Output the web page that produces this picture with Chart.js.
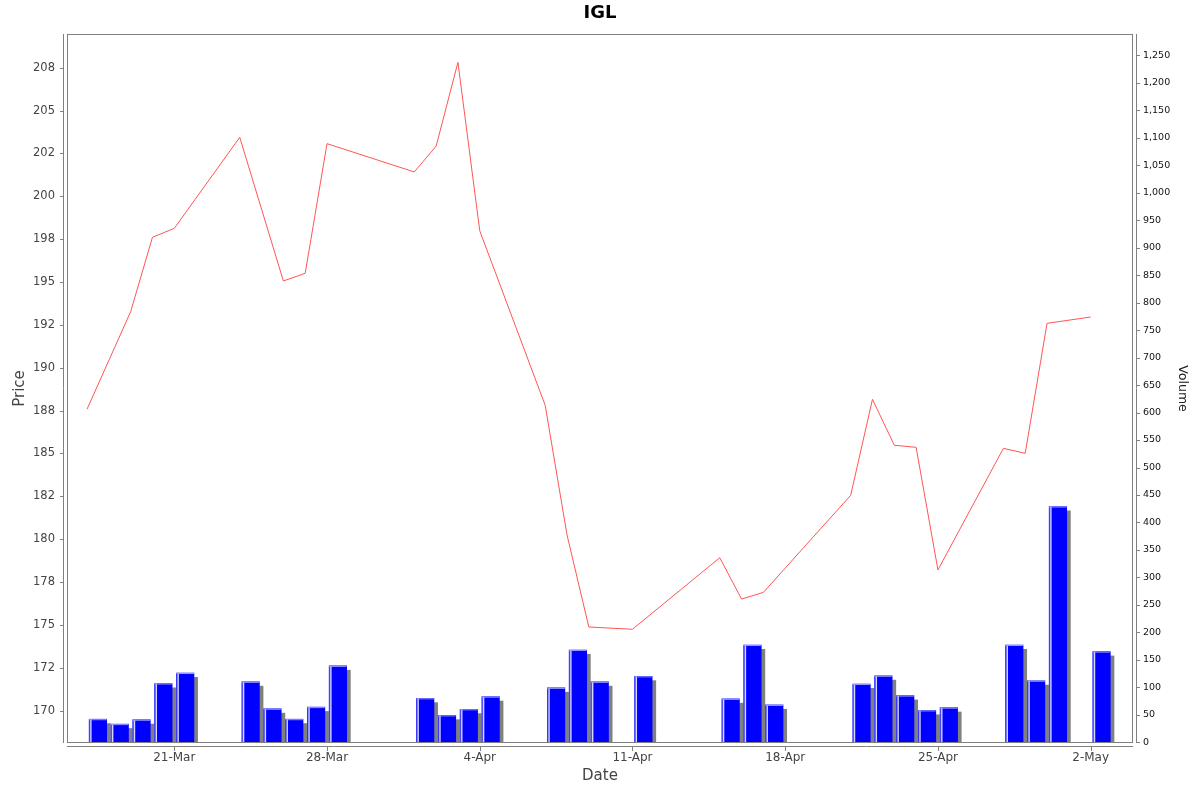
<!DOCTYPE html>
<html><head><meta charset="utf-8">
<script src="https://cdn.jsdelivr.net/npm/chart.js@4.4.1/dist/chart.umd.min.js"></script>
<style>html,body{margin:0;padding:0;background:#fff;}#wrap{width:1200px;height:792px;position:relative;}</style>
</head><body><div id="wrap"><canvas id="c"></canvas></div>
<script>
// ---- data ----
const dates = ['17-Mar','18-Mar','19-Mar','20-Mar','21-Mar','24-Mar','25-Mar','26-Mar','27-Mar','28-Mar',
  '1-Apr','2-Apr','3-Apr','4-Apr','7-Apr','8-Apr','9-Apr','11-Apr','15-Apr','16-Apr','17-Apr',
  '21-Apr','22-Apr','23-Apr','24-Apr','25-Apr','28-Apr','29-Apr','30-Apr','2-May'];
const prices = [187.58, null, 193.27, 197.61, 198.13, 203.44, null, 195.06, 195.51, 203.07,
  201.42, 202.92, 207.81, 197.99, 187.81, 180.25, 174.88, 174.75, 178.92, 176.51, 176.90,
  182.56, 188.16, 185.48, 185.36, 178.21, 185.30, 185.01, 192.59, 192.96];
const volumes = [42, 33, 41, 107, 126, 110, 61, 42, 64, 139,
  80, 49, 60, 83, 99, 168, 110, 120, 79, 177, 68,
  106, 121, 85, 58, 63, 177, 112, 429, 165];
const xTickDates = ['21-Mar','28-Mar','4-Apr','11-Apr','18-Apr','25-Apr','2-May'];
const priceTicks = [170,172.5,175,177.5,180,182.5,185,187.5,190,192.5,195,197.5,200,202.5,205,207.5];
const priceTickLabels = ['170','172','175','178','180','182','185','188','190','192','195','198','200','202','205','208'];
const volumeTicks = [0,50,100,150,200,250,300,350,400,450,500,550,600,650,700,750,800,850,900,950,1000,1050,1100,1150,1200,1250];

const monthStart = {Mar:0, Apr:31, May:61};
function dayNum(s){ const p = s.split('-'); return monthStart[p[1]] + Number(p[0]); }

const FONT = 'DejaVu Sans';
const GRAY = '#808080';

const decor = {
  id: 'decor',
  beforeDatasetDraw(chart, args) {
    if (args.meta.type !== 'bar') return;
    const ctx = chart.ctx, a = chart.chartArea;
    ctx.save();
    ctx.beginPath(); ctx.rect(a.left, a.top, a.right - a.left, a.bottom - a.top); ctx.clip();
    ctx.fillStyle = GRAY;
    args.meta.data.forEach(el => {
      const p = el.getProps(['x','y','base','width'], true);
      ctx.fillRect(p.x - p.width/2 + 4, p.y + 4, p.width, p.base - p.y);
    });
    ctx.restore();
  },
  afterDatasetDraw(chart, args) {
    if (args.meta.type !== 'bar') return;
    const ctx = chart.ctx;
    ctx.save();
    args.meta.data.forEach(el => {
      const p = el.getProps(['x','y','base','width'], true);
      const l = p.x - p.width/2;
      ctx.fillStyle = '#4d4dff'; ctx.fillRect(l, p.y, 1, p.base - p.y);
      ctx.fillStyle = '#d6d6ff'; ctx.fillRect(l + 1, p.y, 1.4, p.base - p.y);
      ctx.fillStyle = '#9a9aff'; ctx.fillRect(l, p.y, p.width, 1);
    });
    ctx.restore();
  },
  afterDraw(chart) {
    const ctx = chart.ctx, a = chart.chartArea;
    const L = Math.round(a.left), R = Math.round(a.right), T = Math.round(a.top), B = Math.round(a.bottom);
    ctx.save();
    ctx.strokeStyle = GRAY; ctx.lineWidth = 1;
    ctx.strokeRect(L + 0.5, T + 0.5, R - L - 1, B - T - 1);
    ctx.beginPath();
    ctx.moveTo(L - 3.5, T); ctx.lineTo(L - 3.5, B);
    ctx.moveTo(R + 3.5, T); ctx.lineTo(R + 3.5, B);
    ctx.moveTo(L, B + 3.5); ctx.lineTo(R, B + 3.5);
    const sp = chart.scales.yPrice, sv = chart.scales.yVol, sx = chart.scales.x;
    sp.ticks.forEach(t => { const y = Math.round(sp.getPixelForValue(t.value)) + 0.5; ctx.moveTo(L - 7, y); ctx.lineTo(L - 3, y); });
    sv.ticks.forEach(t => { const y = Math.round(sv.getPixelForValue(t.value)) + 0.5; ctx.moveTo(R + 3, y); ctx.lineTo(R + 7, y); });
    sx.ticks.forEach(t => { const x = Math.round(sx.getPixelForValue(t.value)) + 0.5; ctx.moveTo(x, B + 3); ctx.lineTo(x, B + 8); });
    ctx.stroke();
    ctx.restore();
  }
};

new Chart(document.getElementById('c'), {
  type: 'bar',
  data: {
    datasets: [
      {
        type: 'line', label: 'Price', yAxisID: 'yPrice', order: 0,
        data: dates.map((d, i) => ({x: dayNum(d), y: prices[i]})),
        borderColor: '#FF5555', borderWidth: 1, pointRadius: 0, tension: 0, spanGaps: true, fill: false
      },
      {
        type: 'bar', label: 'Volume', yAxisID: 'yVol', order: 1,
        data: dates.map((d, i) => ({x: dayNum(d) + 0.5, y: volumes[i]})),
        backgroundColor: '#0000FF', borderWidth: 0, barThickness: 17.5
      }
    ]
  },
  options: {
    responsive: true, maintainAspectRatio: false, animation: false,
    layout: {padding: 0},
    plugins: {
      legend: {display: false}, tooltip: {enabled: false},
      title: {display: true, text: 'IGL', color: '#000', font: {family: FONT, size: 18, weight: 'bold', lineHeight: 1.2}, padding: {top: 3, bottom: 9.4}}
    },
    scales: {
      x: {
        type: 'linear', position: 'bottom', min: 16.083, max: 64.94, offset: false, bounds: 'ticks',
        grid: {display: false, drawTicks: false, offset: false}, border: {display: false},
        afterBuildTicks: s => { s.ticks = xTickDates.map(d => ({value: dayNum(d)})); },
        afterFit: s => { s.height = 49; },
        ticks: {autoSkip: false, maxRotation: 0, padding: 8, color: '#444', font: {family: FONT, size: 12},
          callback: (v, i) => xTickDates[i]},
        title: {display: true, text: 'Date', color: '#444', font: {family: FONT, size: 15}, padding: {top: 0, bottom: 7}}
      },
      yPrice: {
        type: 'linear', position: 'left', min: 168.116, max: 209.465,
        grid: {display: false, drawTicks: false}, border: {display: false},
        afterBuildTicks: s => { s.ticks = priceTicks.map(v => ({value: v})); },
        afterFit: s => { s.width = 67; },
        ticks: {padding: 12, color: '#444', font: {family: FONT, size: 11.5}, callback: (v, i) => priceTickLabels[i]},
        title: {display: true, text: 'Price', color: '#444', font: {family: FONT, size: 15}, padding: {top: 11, bottom: 0}}
      },
      yVol: {
        type: 'linear', position: 'right', min: -1.3, max: 1288.8,
        grid: {display: false, drawTicks: false}, border: {display: false},
        afterBuildTicks: s => { s.ticks = volumeTicks.map(v => ({value: v})); },
        afterFit: s => { s.width = 67; },
        ticks: {padding: 10, color: '#111', font: {family: FONT, size: 9.5}, callback: v => v.toLocaleString('en-US')},
        title: {display: true, text: 'Volume', color: '#222', font: {family: FONT, size: 12.5}, padding: {top: 10.5, bottom: 0}}
      }
    }
  },
  plugins: [decor]
});
</script>
</body></html>
